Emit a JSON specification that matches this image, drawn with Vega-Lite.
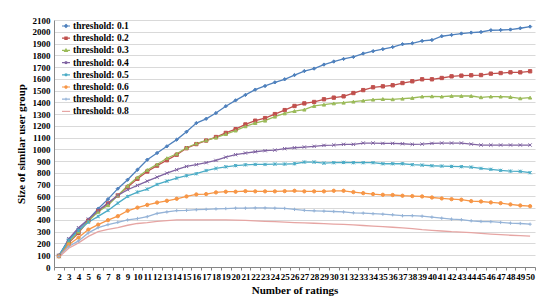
{
  "$schema": "https://vega.github.io/schema/vega-lite/v6.json",
  "width": 481,
  "height": 247,
  "autosize": {"type": "none"},
  "padding": {"left": 54, "top": 20, "right": 15, "bottom": 35},
  "background": "white",
  "config": {
    "view": {"stroke": null},
    "font": "Liberation Serif",
    "axis": {"labelFont": "Liberation Serif", "labelFontWeight": "bold", "titleFont": "Liberation Serif", "titleFontWeight": "bold", "labelColor": "#000000", "titleColor": "#000000", "domainColor": "#868686", "tickColor": "#868686", "gridColor": "#D9D9D9"}
  },
  "data": {"values": [
    {"x":2,"s":"threshold: 0.1","v":98},{"x":3,"s":"threshold: 0.1","v":234},{"x":4,"s":"threshold: 0.1","v":325},{"x":5,"s":"threshold: 0.1","v":404},{"x":6,"s":"threshold: 0.1","v":495},{"x":7,"s":"threshold: 0.1","v":577},{"x":8,"s":"threshold: 0.1","v":666},{"x":9,"s":"threshold: 0.1","v":742},{"x":10,"s":"threshold: 0.1","v":827},{"x":11,"s":"threshold: 0.1","v":912},{"x":12,"s":"threshold: 0.1","v":969},{"x":13,"s":"threshold: 0.1","v":1026},{"x":14,"s":"threshold: 0.1","v":1083},{"x":15,"s":"threshold: 0.1","v":1150},{"x":16,"s":"threshold: 0.1","v":1224},{"x":17,"s":"threshold: 0.1","v":1260},{"x":18,"s":"threshold: 0.1","v":1309},{"x":19,"s":"threshold: 0.1","v":1367},{"x":20,"s":"threshold: 0.1","v":1417},{"x":21,"s":"threshold: 0.1","v":1463},{"x":22,"s":"threshold: 0.1","v":1508},{"x":23,"s":"threshold: 0.1","v":1539},{"x":24,"s":"threshold: 0.1","v":1570},{"x":25,"s":"threshold: 0.1","v":1596},{"x":26,"s":"threshold: 0.1","v":1632},{"x":27,"s":"threshold: 0.1","v":1666},{"x":28,"s":"threshold: 0.1","v":1687},{"x":29,"s":"threshold: 0.1","v":1721},{"x":30,"s":"threshold: 0.1","v":1747},{"x":31,"s":"threshold: 0.1","v":1769},{"x":32,"s":"threshold: 0.1","v":1786},{"x":33,"s":"threshold: 0.1","v":1815},{"x":34,"s":"threshold: 0.1","v":1835},{"x":35,"s":"threshold: 0.1","v":1852},{"x":36,"s":"threshold: 0.1","v":1870},{"x":37,"s":"threshold: 0.1","v":1894},{"x":38,"s":"threshold: 0.1","v":1902},{"x":39,"s":"threshold: 0.1","v":1922},{"x":40,"s":"threshold: 0.1","v":1930},{"x":41,"s":"threshold: 0.1","v":1962},{"x":42,"s":"threshold: 0.1","v":1973},{"x":43,"s":"threshold: 0.1","v":1985},{"x":44,"s":"threshold: 0.1","v":1993},{"x":45,"s":"threshold: 0.1","v":1998},{"x":46,"s":"threshold: 0.1","v":2013},{"x":47,"s":"threshold: 0.1","v":2015},{"x":48,"s":"threshold: 0.1","v":2019},{"x":49,"s":"threshold: 0.1","v":2030},{"x":50,"s":"threshold: 0.1","v":2044},
    {"x":2,"s":"threshold: 0.2","v":95},{"x":3,"s":"threshold: 0.2","v":205},{"x":4,"s":"threshold: 0.2","v":290},{"x":5,"s":"threshold: 0.2","v":395},{"x":6,"s":"threshold: 0.2","v":475},{"x":7,"s":"threshold: 0.2","v":540},{"x":8,"s":"threshold: 0.2","v":608},{"x":9,"s":"threshold: 0.2","v":680},{"x":10,"s":"threshold: 0.2","v":750},{"x":11,"s":"threshold: 0.2","v":812},{"x":12,"s":"threshold: 0.2","v":862},{"x":13,"s":"threshold: 0.2","v":908},{"x":14,"s":"threshold: 0.2","v":955},{"x":15,"s":"threshold: 0.2","v":1010},{"x":16,"s":"threshold: 0.2","v":1045},{"x":17,"s":"threshold: 0.2","v":1075},{"x":18,"s":"threshold: 0.2","v":1105},{"x":19,"s":"threshold: 0.2","v":1140},{"x":20,"s":"threshold: 0.2","v":1172},{"x":21,"s":"threshold: 0.2","v":1212},{"x":22,"s":"threshold: 0.2","v":1244},{"x":23,"s":"threshold: 0.2","v":1266},{"x":24,"s":"threshold: 0.2","v":1300},{"x":25,"s":"threshold: 0.2","v":1334},{"x":26,"s":"threshold: 0.2","v":1369},{"x":27,"s":"threshold: 0.2","v":1391},{"x":28,"s":"threshold: 0.2","v":1403},{"x":29,"s":"threshold: 0.2","v":1426},{"x":30,"s":"threshold: 0.2","v":1440},{"x":31,"s":"threshold: 0.2","v":1451},{"x":32,"s":"threshold: 0.2","v":1479},{"x":33,"s":"threshold: 0.2","v":1504},{"x":34,"s":"threshold: 0.2","v":1528},{"x":35,"s":"threshold: 0.2","v":1536},{"x":36,"s":"threshold: 0.2","v":1545},{"x":37,"s":"threshold: 0.2","v":1564},{"x":38,"s":"threshold: 0.2","v":1579},{"x":39,"s":"threshold: 0.2","v":1596},{"x":40,"s":"threshold: 0.2","v":1596},{"x":41,"s":"threshold: 0.2","v":1607},{"x":42,"s":"threshold: 0.2","v":1621},{"x":43,"s":"threshold: 0.2","v":1627},{"x":44,"s":"threshold: 0.2","v":1630},{"x":45,"s":"threshold: 0.2","v":1632},{"x":46,"s":"threshold: 0.2","v":1644},{"x":47,"s":"threshold: 0.2","v":1649},{"x":48,"s":"threshold: 0.2","v":1655},{"x":49,"s":"threshold: 0.2","v":1655},{"x":50,"s":"threshold: 0.2","v":1664},
    {"x":2,"s":"threshold: 0.3","v":92},{"x":3,"s":"threshold: 0.3","v":215},{"x":4,"s":"threshold: 0.3","v":300},{"x":5,"s":"threshold: 0.3","v":390},{"x":6,"s":"threshold: 0.3","v":470},{"x":7,"s":"threshold: 0.3","v":525},{"x":8,"s":"threshold: 0.3","v":608},{"x":9,"s":"threshold: 0.3","v":690},{"x":10,"s":"threshold: 0.3","v":762},{"x":11,"s":"threshold: 0.3","v":825},{"x":12,"s":"threshold: 0.3","v":872},{"x":13,"s":"threshold: 0.3","v":925},{"x":14,"s":"threshold: 0.3","v":963},{"x":15,"s":"threshold: 0.3","v":1014},{"x":16,"s":"threshold: 0.3","v":1050},{"x":17,"s":"threshold: 0.3","v":1077},{"x":18,"s":"threshold: 0.3","v":1100},{"x":19,"s":"threshold: 0.3","v":1130},{"x":20,"s":"threshold: 0.3","v":1160},{"x":21,"s":"threshold: 0.3","v":1196},{"x":22,"s":"threshold: 0.3","v":1224},{"x":23,"s":"threshold: 0.3","v":1244},{"x":24,"s":"threshold: 0.3","v":1278},{"x":25,"s":"threshold: 0.3","v":1306},{"x":26,"s":"threshold: 0.3","v":1326},{"x":27,"s":"threshold: 0.3","v":1338},{"x":28,"s":"threshold: 0.3","v":1369},{"x":29,"s":"threshold: 0.3","v":1380},{"x":30,"s":"threshold: 0.3","v":1391},{"x":31,"s":"threshold: 0.3","v":1397},{"x":32,"s":"threshold: 0.3","v":1406},{"x":33,"s":"threshold: 0.3","v":1414},{"x":34,"s":"threshold: 0.3","v":1423},{"x":35,"s":"threshold: 0.3","v":1428},{"x":36,"s":"threshold: 0.3","v":1426},{"x":37,"s":"threshold: 0.3","v":1431},{"x":38,"s":"threshold: 0.3","v":1437},{"x":39,"s":"threshold: 0.3","v":1449},{"x":40,"s":"threshold: 0.3","v":1451},{"x":41,"s":"threshold: 0.3","v":1449},{"x":42,"s":"threshold: 0.3","v":1454},{"x":43,"s":"threshold: 0.3","v":1454},{"x":44,"s":"threshold: 0.3","v":1454},{"x":45,"s":"threshold: 0.3","v":1443},{"x":46,"s":"threshold: 0.3","v":1449},{"x":47,"s":"threshold: 0.3","v":1449},{"x":48,"s":"threshold: 0.3","v":1445},{"x":49,"s":"threshold: 0.3","v":1434},{"x":50,"s":"threshold: 0.3","v":1440},
    {"x":2,"s":"threshold: 0.4","v":89},{"x":3,"s":"threshold: 0.4","v":240},{"x":4,"s":"threshold: 0.4","v":334},{"x":5,"s":"threshold: 0.4","v":407},{"x":6,"s":"threshold: 0.4","v":481},{"x":7,"s":"threshold: 0.4","v":543},{"x":8,"s":"threshold: 0.4","v":609},{"x":9,"s":"threshold: 0.4","v":657},{"x":10,"s":"threshold: 0.4","v":694},{"x":11,"s":"threshold: 0.4","v":730},{"x":12,"s":"threshold: 0.4","v":764},{"x":13,"s":"threshold: 0.4","v":798},{"x":14,"s":"threshold: 0.4","v":827},{"x":15,"s":"threshold: 0.4","v":855},{"x":16,"s":"threshold: 0.4","v":870},{"x":17,"s":"threshold: 0.4","v":887},{"x":18,"s":"threshold: 0.4","v":906},{"x":19,"s":"threshold: 0.4","v":934},{"x":20,"s":"threshold: 0.4","v":955},{"x":21,"s":"threshold: 0.4","v":969},{"x":22,"s":"threshold: 0.4","v":980},{"x":23,"s":"threshold: 0.4","v":989},{"x":24,"s":"threshold: 0.4","v":994},{"x":25,"s":"threshold: 0.4","v":1006},{"x":26,"s":"threshold: 0.4","v":1014},{"x":27,"s":"threshold: 0.4","v":1020},{"x":28,"s":"threshold: 0.4","v":1026},{"x":29,"s":"threshold: 0.4","v":1034},{"x":30,"s":"threshold: 0.4","v":1037},{"x":31,"s":"threshold: 0.4","v":1043},{"x":32,"s":"threshold: 0.4","v":1043},{"x":33,"s":"threshold: 0.4","v":1054},{"x":34,"s":"threshold: 0.4","v":1054},{"x":35,"s":"threshold: 0.4","v":1051},{"x":36,"s":"threshold: 0.4","v":1051},{"x":37,"s":"threshold: 0.4","v":1048},{"x":38,"s":"threshold: 0.4","v":1043},{"x":39,"s":"threshold: 0.4","v":1045},{"x":40,"s":"threshold: 0.4","v":1051},{"x":41,"s":"threshold: 0.4","v":1054},{"x":42,"s":"threshold: 0.4","v":1054},{"x":43,"s":"threshold: 0.4","v":1054},{"x":44,"s":"threshold: 0.4","v":1045},{"x":45,"s":"threshold: 0.4","v":1037},{"x":46,"s":"threshold: 0.4","v":1037},{"x":47,"s":"threshold: 0.4","v":1037},{"x":48,"s":"threshold: 0.4","v":1037},{"x":49,"s":"threshold: 0.4","v":1037},{"x":50,"s":"threshold: 0.4","v":1037},
    {"x":2,"s":"threshold: 0.5","v":98},{"x":3,"s":"threshold: 0.5","v":226},{"x":4,"s":"threshold: 0.5","v":311},{"x":5,"s":"threshold: 0.5","v":381},{"x":6,"s":"threshold: 0.5","v":430},{"x":7,"s":"threshold: 0.5","v":481},{"x":8,"s":"threshold: 0.5","v":543},{"x":9,"s":"threshold: 0.5","v":600},{"x":10,"s":"threshold: 0.5","v":637},{"x":11,"s":"threshold: 0.5","v":662},{"x":12,"s":"threshold: 0.5","v":702},{"x":13,"s":"threshold: 0.5","v":730},{"x":14,"s":"threshold: 0.5","v":756},{"x":15,"s":"threshold: 0.5","v":776},{"x":16,"s":"threshold: 0.5","v":793},{"x":17,"s":"threshold: 0.5","v":820},{"x":18,"s":"threshold: 0.5","v":838},{"x":19,"s":"threshold: 0.5","v":852},{"x":20,"s":"threshold: 0.5","v":862},{"x":21,"s":"threshold: 0.5","v":869},{"x":22,"s":"threshold: 0.5","v":872},{"x":23,"s":"threshold: 0.5","v":872},{"x":24,"s":"threshold: 0.5","v":875},{"x":25,"s":"threshold: 0.5","v":875},{"x":26,"s":"threshold: 0.5","v":878},{"x":27,"s":"threshold: 0.5","v":892},{"x":28,"s":"threshold: 0.5","v":892},{"x":29,"s":"threshold: 0.5","v":883},{"x":30,"s":"threshold: 0.5","v":887},{"x":31,"s":"threshold: 0.5","v":889},{"x":32,"s":"threshold: 0.5","v":887},{"x":33,"s":"threshold: 0.5","v":887},{"x":34,"s":"threshold: 0.5","v":887},{"x":35,"s":"threshold: 0.5","v":878},{"x":36,"s":"threshold: 0.5","v":878},{"x":37,"s":"threshold: 0.5","v":878},{"x":38,"s":"threshold: 0.5","v":870},{"x":39,"s":"threshold: 0.5","v":866},{"x":40,"s":"threshold: 0.5","v":861},{"x":41,"s":"threshold: 0.5","v":858},{"x":42,"s":"threshold: 0.5","v":855},{"x":43,"s":"threshold: 0.5","v":853},{"x":44,"s":"threshold: 0.5","v":849},{"x":45,"s":"threshold: 0.5","v":838},{"x":46,"s":"threshold: 0.5","v":830},{"x":47,"s":"threshold: 0.5","v":821},{"x":48,"s":"threshold: 0.5","v":815},{"x":49,"s":"threshold: 0.5","v":813},{"x":50,"s":"threshold: 0.5","v":802},
    {"x":2,"s":"threshold: 0.6","v":90},{"x":3,"s":"threshold: 0.6","v":190},{"x":4,"s":"threshold: 0.6","v":250},{"x":5,"s":"threshold: 0.6","v":318},{"x":6,"s":"threshold: 0.6","v":360},{"x":7,"s":"threshold: 0.6","v":398},{"x":8,"s":"threshold: 0.6","v":432},{"x":9,"s":"threshold: 0.6","v":478},{"x":10,"s":"threshold: 0.6","v":505},{"x":11,"s":"threshold: 0.6","v":528},{"x":12,"s":"threshold: 0.6","v":548},{"x":13,"s":"threshold: 0.6","v":563},{"x":14,"s":"threshold: 0.6","v":580},{"x":15,"s":"threshold: 0.6","v":600},{"x":16,"s":"threshold: 0.6","v":617},{"x":17,"s":"threshold: 0.6","v":620},{"x":18,"s":"threshold: 0.6","v":634},{"x":19,"s":"threshold: 0.6","v":640},{"x":20,"s":"threshold: 0.6","v":640},{"x":21,"s":"threshold: 0.6","v":645},{"x":22,"s":"threshold: 0.6","v":643},{"x":23,"s":"threshold: 0.6","v":643},{"x":24,"s":"threshold: 0.6","v":643},{"x":25,"s":"threshold: 0.6","v":645},{"x":26,"s":"threshold: 0.6","v":648},{"x":27,"s":"threshold: 0.6","v":643},{"x":28,"s":"threshold: 0.6","v":643},{"x":29,"s":"threshold: 0.6","v":643},{"x":30,"s":"threshold: 0.6","v":648},{"x":31,"s":"threshold: 0.6","v":648},{"x":32,"s":"threshold: 0.6","v":637},{"x":33,"s":"threshold: 0.6","v":628},{"x":34,"s":"threshold: 0.6","v":620},{"x":35,"s":"threshold: 0.6","v":614},{"x":36,"s":"threshold: 0.6","v":612},{"x":37,"s":"threshold: 0.6","v":606},{"x":38,"s":"threshold: 0.6","v":603},{"x":39,"s":"threshold: 0.6","v":600},{"x":40,"s":"threshold: 0.6","v":591},{"x":41,"s":"threshold: 0.6","v":583},{"x":42,"s":"threshold: 0.6","v":577},{"x":43,"s":"threshold: 0.6","v":572},{"x":44,"s":"threshold: 0.6","v":560},{"x":45,"s":"threshold: 0.6","v":557},{"x":46,"s":"threshold: 0.6","v":549},{"x":47,"s":"threshold: 0.6","v":543},{"x":48,"s":"threshold: 0.6","v":532},{"x":49,"s":"threshold: 0.6","v":523},{"x":50,"s":"threshold: 0.6","v":517},
    {"x":2,"s":"threshold: 0.7","v":89},{"x":3,"s":"threshold: 0.7","v":175},{"x":4,"s":"threshold: 0.7","v":222},{"x":5,"s":"threshold: 0.7","v":290},{"x":6,"s":"threshold: 0.7","v":335},{"x":7,"s":"threshold: 0.7","v":360},{"x":8,"s":"threshold: 0.7","v":380},{"x":9,"s":"threshold: 0.7","v":400},{"x":10,"s":"threshold: 0.7","v":412},{"x":11,"s":"threshold: 0.7","v":428},{"x":12,"s":"threshold: 0.7","v":455},{"x":13,"s":"threshold: 0.7","v":468},{"x":14,"s":"threshold: 0.7","v":480},{"x":15,"s":"threshold: 0.7","v":482},{"x":16,"s":"threshold: 0.7","v":487},{"x":17,"s":"threshold: 0.7","v":490},{"x":18,"s":"threshold: 0.7","v":494},{"x":19,"s":"threshold: 0.7","v":497},{"x":20,"s":"threshold: 0.7","v":500},{"x":21,"s":"threshold: 0.7","v":500},{"x":22,"s":"threshold: 0.7","v":502},{"x":23,"s":"threshold: 0.7","v":502},{"x":24,"s":"threshold: 0.7","v":500},{"x":25,"s":"threshold: 0.7","v":498},{"x":26,"s":"threshold: 0.7","v":490},{"x":27,"s":"threshold: 0.7","v":482},{"x":28,"s":"threshold: 0.7","v":478},{"x":29,"s":"threshold: 0.7","v":475},{"x":30,"s":"threshold: 0.7","v":472},{"x":31,"s":"threshold: 0.7","v":468},{"x":32,"s":"threshold: 0.7","v":461},{"x":33,"s":"threshold: 0.7","v":458},{"x":34,"s":"threshold: 0.7","v":453},{"x":35,"s":"threshold: 0.7","v":449},{"x":36,"s":"threshold: 0.7","v":444},{"x":37,"s":"threshold: 0.7","v":436},{"x":38,"s":"threshold: 0.7","v":436},{"x":39,"s":"threshold: 0.7","v":432},{"x":40,"s":"threshold: 0.7","v":424},{"x":41,"s":"threshold: 0.7","v":415},{"x":42,"s":"threshold: 0.7","v":407},{"x":43,"s":"threshold: 0.7","v":402},{"x":44,"s":"threshold: 0.7","v":393},{"x":45,"s":"threshold: 0.7","v":387},{"x":46,"s":"threshold: 0.7","v":385},{"x":47,"s":"threshold: 0.7","v":379},{"x":48,"s":"threshold: 0.7","v":373},{"x":49,"s":"threshold: 0.7","v":370},{"x":50,"s":"threshold: 0.7","v":364},
    {"x":2,"s":"threshold: 0.8","v":83},{"x":3,"s":"threshold: 0.8","v":160},{"x":4,"s":"threshold: 0.8","v":205},{"x":5,"s":"threshold: 0.8","v":260},{"x":6,"s":"threshold: 0.8","v":300},{"x":7,"s":"threshold: 0.8","v":320},{"x":8,"s":"threshold: 0.8","v":335},{"x":9,"s":"threshold: 0.8","v":355},{"x":10,"s":"threshold: 0.8","v":370},{"x":11,"s":"threshold: 0.8","v":378},{"x":12,"s":"threshold: 0.8","v":388},{"x":13,"s":"threshold: 0.8","v":395},{"x":14,"s":"threshold: 0.8","v":400},{"x":15,"s":"threshold: 0.8","v":400},{"x":16,"s":"threshold: 0.8","v":400},{"x":17,"s":"threshold: 0.8","v":400},{"x":18,"s":"threshold: 0.8","v":400},{"x":19,"s":"threshold: 0.8","v":400},{"x":20,"s":"threshold: 0.8","v":398},{"x":21,"s":"threshold: 0.8","v":396},{"x":22,"s":"threshold: 0.8","v":392},{"x":23,"s":"threshold: 0.8","v":388},{"x":24,"s":"threshold: 0.8","v":385},{"x":25,"s":"threshold: 0.8","v":382},{"x":26,"s":"threshold: 0.8","v":378},{"x":27,"s":"threshold: 0.8","v":375},{"x":28,"s":"threshold: 0.8","v":372},{"x":29,"s":"threshold: 0.8","v":368},{"x":30,"s":"threshold: 0.8","v":365},{"x":31,"s":"threshold: 0.8","v":362},{"x":32,"s":"threshold: 0.8","v":358},{"x":33,"s":"threshold: 0.8","v":353},{"x":34,"s":"threshold: 0.8","v":348},{"x":35,"s":"threshold: 0.8","v":343},{"x":36,"s":"threshold: 0.8","v":338},{"x":37,"s":"threshold: 0.8","v":333},{"x":38,"s":"threshold: 0.8","v":326},{"x":39,"s":"threshold: 0.8","v":318},{"x":40,"s":"threshold: 0.8","v":312},{"x":41,"s":"threshold: 0.8","v":306},{"x":42,"s":"threshold: 0.8","v":300},{"x":43,"s":"threshold: 0.8","v":296},{"x":44,"s":"threshold: 0.8","v":292},{"x":45,"s":"threshold: 0.8","v":286},{"x":46,"s":"threshold: 0.8","v":280},{"x":47,"s":"threshold: 0.8","v":275},{"x":48,"s":"threshold: 0.8","v":270},{"x":49,"s":"threshold: 0.8","v":266},{"x":50,"s":"threshold: 0.8","v":262}
  ]},
  "encoding": {
    "x": {"field": "x", "type": "ordinal", "sort": "ascending",
      "scale": {"type": "band", "paddingInner": 0, "paddingOuter": 0},
      "axis": {"title": "Number of ratings", "titleFontSize": 11, "titlePadding": 3, "labelFontSize": 9, "labelAngle": 0, "labelOverlap": false, "labelBound": false, "labelPadding": 2, "tickSize": 3, "tickBand": "extent", "grid": false, "domainColor": "#868686"}},
    "y": {"field": "v", "type": "quantitative",
      "scale": {"domain": [0, 2100], "nice": false},
      "axis": {"title": "Size of similar user group", "titleFontSize": 11, "titlePadding": 6, "labelFontSize": 9, "labelPadding": 4, "format": "d", "ticks": false, "values": [0,100,200,300,400,500,600,700,800,900,1000,1100,1200,1300,1400,1500,1600,1700,1800,1900,2000,2100], "grid": true, "domain": true}}
  },
  "layer": [
    {
      "mark": {"type": "line", "strokeWidth": 1.3},
      "encoding": {
        "color": {"field": "s", "type": "nominal",
          "scale": {"domain": ["threshold: 0.1","threshold: 0.2","threshold: 0.3","threshold: 0.4","threshold: 0.5","threshold: 0.6","threshold: 0.7","threshold: 0.8"],
                    "range": ["#4F81BD","#C0504D","#9BBB59","#8064A2","#4BACC6","#F79646","#95B3D7","#E6A5A3"]},
          "legend": {"title": null, "orient": "none", "legendX": 7, "legendY": 1, "labelFont": "Liberation Serif", "labelFontWeight": "bold", "labelFontSize": 9.5, "labelColor": "#000000", "symbolType": "stroke", "symbolSize": 64, "symbolStrokeWidth": 1.2, "rowPadding": 2.2, "labelOffset": 2, "padding": 0,
            "encode": {"symbols": {"update": {
              "shape": {"signal": "['M-1,0H1M0,-0.38L0.38,0L0,0.38L-0.38,0Z','M-1,0H1M-0.28,-0.28H0.28V0.28H-0.28Z','M-1,0H1M0,-0.34L0.34,0.26H-0.34Z','M-1,0H1M-0.28,-0.28L0.28,0.28M-0.28,0.28L0.28,-0.28','M-1,0H1M-0.28,-0.28L0.28,0.28M-0.28,0.28L0.28,-0.28M0,-0.34V0.34','M-1,0H1M0.28,0A0.28,0.28 0 1 1 -0.28,0A0.28,0.28 0 1 1 0.28,0Z','M-1,0H1M0,-0.34V0.34','M-1,0H1'][datum.index]"},
              "fill": {"scale": "color", "field": "value"}
            }}}
          }}
      }
    },
    {
      "transform": [{"filter": "datum.s != 'threshold: 0.8'"}],
      "mark": {"type": "point", "filled": true, "size": 11, "strokeWidth": 1, "opacity": 1},
      "encoding": {
        "fill": {"field": "s", "type": "nominal", "legend": null,
          "scale": {"domain": ["threshold: 0.1","threshold: 0.2","threshold: 0.3","threshold: 0.4","threshold: 0.5","threshold: 0.6","threshold: 0.7"],
                    "range": ["#4F81BD","#C0504D","#9BBB59","#8064A2","#4BACC6","#F79646","#95B3D7"]}},
        "stroke": {"field": "s", "type": "nominal", "legend": null,
          "scale": {"domain": ["threshold: 0.1","threshold: 0.2","threshold: 0.3","threshold: 0.4","threshold: 0.5","threshold: 0.6","threshold: 0.7"],
                    "range": ["#4F81BD","#C0504D","#9BBB59","#8064A2","#4BACC6","#F79646","#95B3D7"]}},
        "shape": {"field": "s", "type": "nominal", "legend": null,
          "scale": {"domain": ["threshold: 0.1","threshold: 0.2","threshold: 0.3","threshold: 0.4","threshold: 0.5","threshold: 0.6","threshold: 0.7"],
                    "range": ["diamond","square","triangle-up","M-1,-1L1,1M-1,1L1,-1","M-1,-1L1,1M-1,1L1,-1M0,-1V1","circle","M0,-1V1M-1,0H1"]}}
      }
    }
  ]
}
